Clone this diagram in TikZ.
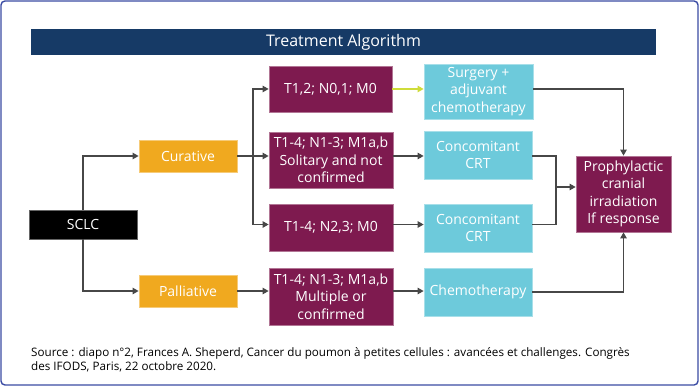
\documentclass[tikz,border=0pt]{standalone}
\usepackage{fontspec}
\setmainfont{Open Sans}
\usetikzlibrary{arrows.meta}

\definecolor{navy}{HTML}{163A66}
\definecolor{wine}{HTML}{7E1A4F}
\definecolor{amber}{HTML}{F0A91F}
\definecolor{sky}{HTML}{6DCADB}
\definecolor{lime}{HTML}{CFDC3A}
\definecolor{frameblue}{HTML}{3A4BA3}

\begin{document}
\begin{tikzpicture}[x=1pt,y=-1pt,
	box/.style={fill=#1, draw=#1!60!white, line width=0.8pt, text=white, align=center, inner sep=0pt, font=\fontsize{14}{17.5}\selectfont},
	wire/.style={draw=black!72, line width=1.1pt},
	link/.style={wire, -{Triangle[length=6pt,width=6.5pt]}}]

	\useasboundingbox (0,0) rectangle (700,387);
	\draw[frameblue, line width=1.4pt, rounded corners=4pt] (1,1) rectangle (698,385);

	% Title
	\node[fill=navy, text=white, minimum width=625, minimum height=26, inner sep=0pt, font=\fontsize{16}{19}\selectfont] (title) at (343.5,42) {Treatment Algorithm};

	% Draw boxes
	\node[box=black, minimum width=108, minimum height=29] (sclc) at (83,224.5) {SCLC};
	\node[box=amber, minimum width=98, minimum height=32] (cur) at (188,156) {Curative};
	\node[box=amber, minimum width=98, minimum height=32] (pal) at (188,291) {Palliative};

	\node[box=wine, minimum width=123, minimum height=46] (t12) at (330.5,89) {T1,2; N0,1; M0};
	\node[box=wine, minimum width=124, minimum height=56] (sol) at (331,160) {T1-4; N1-3; M1a,b\\Solitary and not\\confirmed};
	\node[box=wine, minimum width=124, minimum height=47] (n23) at (331,227.5) {T1-4; N2,3; M0};
	\node[box=wine, minimum width=124, minimum height=57] (mul) at (331,296.5) {T1-4; N1-3; M1a,b\\Multiple or\\confirmed};

	\node[box=sky, minimum width=109, minimum height=55] (surg) at (478.5,91.5) {Surgery +\\adjuvant\\chemotherapy};
	\node[box=sky, minimum width=108, minimum height=48] (crt1) at (478,155) {Concomitant\\CRT};
	\node[box=sky, minimum width=108, minimum height=48] (crt2) at (478,228) {Concomitant\\CRT};
	\node[box=sky, minimum width=108, minimum height=48] (chemo) at (478,292) {Chemotherapy};

	\node[box=wine, minimum width=95, minimum height=76] (pci) at (623.5,194) {Prophylactic\\cranial\\irradiation\\If response};

	% Connectors
	\draw[link] (sclc.north) |- (cur.west);
	\draw[link] (sclc.south) |- (pal.west);
	\draw[link] (cur.east) -- (cur.east -| sol.west);
	\coordinate (fork) at (253,156);
	\draw[link] (fork) |- (t12.west);
	\draw[link] (fork) |- (n23.west |- sclc.east);
	\draw[link] (pal.east) -- (pal.east -| mul.west);

	\draw[link, draw=lime] (t12.east) -- (t12.east -| surg.west);
	\draw[link] (cur.east -| sol.east) -- (cur.east -| crt1.west);
	\draw[link] (sclc.east -| n23.east) -- (sclc.east -| crt2.west);
	\draw[link] (pal.east -| mul.east) -- (pal.east -| chemo.west);

	\coordinate (merge) at (556,187);
	\draw[wire] (cur.east -| crt1.east) -| (merge);
	\draw[wire] (sclc.east -| crt2.east) -| (merge);
	\draw[link] (merge) -- (merge -| pci.west);
	\draw[link] (t12.east -| surg.east) -| (pci.north);
	\draw[link] (chemo.east) -| (pci.south);

	% Source
	\node[anchor=north west, align=left, inner sep=0pt, font=\fontsize{11.65}{14}\selectfont] (src) at (31,347) {Source : diapo n°2, Frances A. Sheperd, Cancer du poumon à petites cellules : avancées et challenges. Congrès\\des IFODS, Paris, 22 octobre 2020.};

\end{tikzpicture}
\end{document}
